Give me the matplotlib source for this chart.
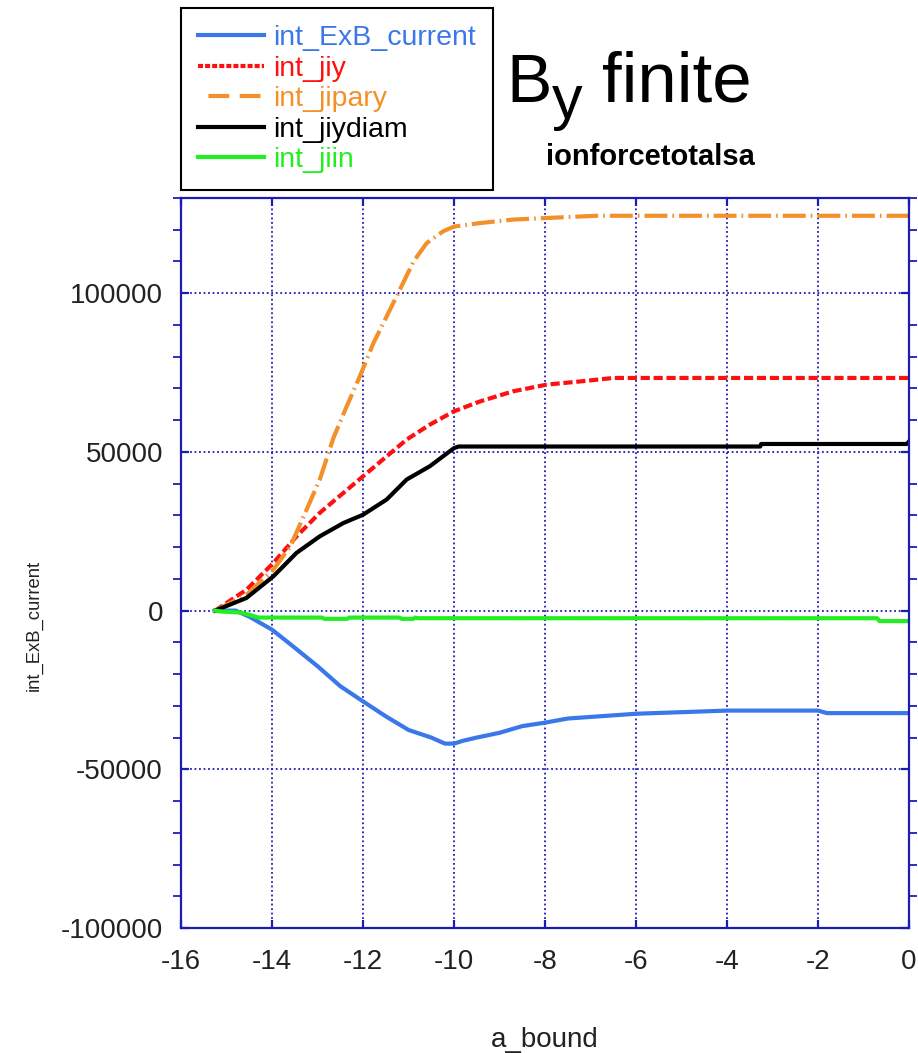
import matplotlib
matplotlib.use('Agg')
import matplotlib.pyplot as plt
from matplotlib.lines import Line2D
from matplotlib.ticker import MultipleLocator

plt.rcParams['font.family'] = ['Liberation Sans', 'DejaVu Sans']
plt.rcParams['axes.unicode_minus'] = False

# int_ExB_current
x_exb = [-15.25, -14.8, -14.5, -14.0, -13.5, -13.0, -12.5, -12.0, -11.5, -11.0,
         -10.5, -10.2, -10.0, -9.8, -9.5, -9.0, -8.5, -8.0, -7.5, -7.0, -6.0,
         -5.0, -4.0, -3.0, -2.0, -1.8, 0.0]
y_exb = [0, 0, -1900, -6000, -11700, -17500, -23800, -28600, -33300, -37600,
         -40000, -41900, -41900, -41000, -40000, -38500, -36400, -35300, -34000,
         -33500, -32500, -32000, -31500, -31500, -31500, -32300, -32300]

# int_jiy
x_jiy = [-15.25, -14.56, -13.97, -13.46, -12.95, -12.43, -12.0, -11.48, -11.04,
         -10.53, -10.0, -9.43, -8.7, -7.96, -7.23, -6.5, 0.0]
y_jiy = [0, 6600, 15000, 23400, 30800, 37100, 42300, 48600, 53900,
         58600, 62800, 65900, 69100, 71200, 72200, 73300, 73300]

# int_jipary
x_jipary = [-15.25, -14.56, -13.97, -13.6, -13.24, -12.95, -12.65, -12.36, -12.07,
            -11.77, -11.48, -11.19, -10.89, -10.6, -10.24, -10.0, -9.43, -8.7,
            -7.96, -6.87, 0.0]
y_jipary = [0, 5000, 12900, 20200, 31800, 41300, 54400, 64300, 73800,
            84300, 92700, 101100, 110000, 115800, 119500, 121000, 122100, 123200,
            123700, 124400, 124400]

# int_jiydiam
x_jiydiam = [-15.25, -14.56, -13.97, -13.46, -12.95, -12.43, -12.0, -11.48, -11.04,
             -10.53, -10.0, -9.9, -3.27, -3.25, -0.05, 0.0]
y_jiydiam = [0, 4000, 10800, 18200, 23400, 27600, 30200, 35000, 41300,
             45500, 51200, 51700, 51700, 52500, 52500, 53300]

# int_jiin
x_jiin = [-15.25, -15.1, -14.7, -14.5, -14.3, -12.9, -12.85, -12.35, -12.3, -11.2,
          -11.15, -10.9, -10.85, -10.8, -0.7, -0.65, 0.0]
y_jiin = [0, -300, -600, -1300, -2200, -2200, -2600, -2600, -2200, -2200,
          -2600, -2600, -2200, -2400, -2400, -3300, -3300]

labels = ['int_ExB_current', 'int_jiy', 'int_jipary', 'int_jiydiam', 'int_jiin']

blue = '#3a78ea'
red = '#ff1010'
orange = '#f4902a'
green = '#22ee22'
axis_blue = '#1c1cb4'

fig = plt.figure(figsize=(9.18, 10.53), dpi=100)
ax = fig.add_axes([181 / 918, 1 - 928 / 1053, 728 / 918, 730 / 1053])

ax.plot(x_exb, y_exb, color=blue, lw=3)
ax.plot(x_jiy, y_jiy, color=red, lw=3, linestyle=(0, (2.2, 0.9)))
ax.plot(x_jipary, y_jipary, color=orange, lw=3, linestyle=(0, (5.5, 1.2, 0.4, 1.2)))
ax.plot(x_jiydiam, y_jiydiam, color='black', lw=3)
ax.plot(x_jiin, y_jiin, color=green, lw=3)

ax.set_xlim(-16, 0)
ax.set_ylim(-100000, 130000)
ax.xaxis.set_major_locator(MultipleLocator(2))
ax.yaxis.set_major_locator(MultipleLocator(50000))
ax.yaxis.set_minor_locator(MultipleLocator(10000))

ax.grid(True, which='major', color=axis_blue, linestyle=(0, (1, 1.5)), lw=1.3)
for s in ax.spines.values():
    s.set_color(axis_blue)
    s.set_linewidth(1.6)

ax.tick_params(which='major', direction='in', length=6, width=1.6, color=axis_blue,
               top=True, right=True, labelsize=20, labelcolor='#222222', pad=13)
ax.tick_params(axis='x', which='major', pad=15)
ax.tick_params(axis='y', which='minor', direction='out', length=6, width=1.3,
               color=axis_blue, left=True, right=True)

ax.set_ylabel('int_ExB_current', fontsize=13.3, color='#222222')
ax.yaxis.set_label_coords(-0.19, 0.415)
ax.set_xlabel('a_bound', fontsize=20, color='#222222', va='top')
ax.xaxis.set_label_coords(0.5, -0.135)

handles = [
    Line2D([], [], color=blue, lw=3),
    Line2D([], [], color=red, lw=3, linestyle=(0, (1.2, 0.5))),
    Line2D([], [], color=orange, lw=3, linestyle=(5, (5, 2.5))),
    Line2D([], [], color='black', lw=3),
    Line2D([], [], color=green, lw=3),
]
leg = fig.legend(handles, labels, loc='upper left', bbox_to_anchor=(181 / 918, 1 - 8 / 1053),
                 fontsize=20.5, frameon=True, fancybox=False, framealpha=1,
                 handlelength=2.3, handletextpad=0.35, labelspacing=0.16,
                 borderpad=0.6, borderaxespad=0)
leg.get_frame().set_edgecolor('black')
leg.get_frame().set_linewidth(1.5)
for t, c in zip(leg.get_texts(), [blue, red, orange, 'black', green]):
    t.set_color(c)

fig.text(506 / 918, 1 - 102 / 1053, 'B', fontsize=49, ha='left', va='baseline')
fig.text(552 / 918, 1 - 118 / 1053, 'y', fontsize=44, ha='left', va='baseline')
fig.text(602 / 918, 1 - 102 / 1053, 'finite', fontsize=51, ha='left', va='baseline')
fig.text(546 / 918, 1 - 165 / 1053, 'ionforcetotalsa', fontsize=21, fontweight='bold',
         ha='left', va='baseline')

fig.savefig('out.png', dpi=100)
